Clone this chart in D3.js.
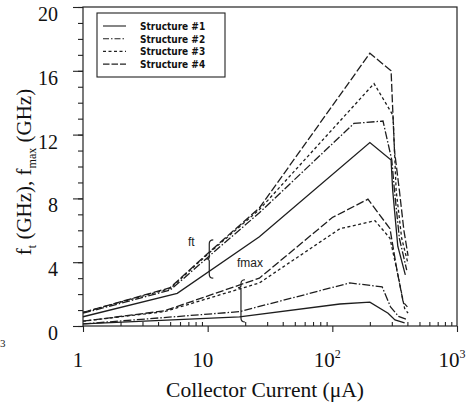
<!DOCTYPE html>
<html>
<head>
<meta charset="utf-8">
<script src="https://cdn.jsdelivr.net/npm/d3@7"></script>
<style>
    body { margin: 0; background: #fff; }
    svg { display: block; }
    .axis path { display: none; }
    .axis line { stroke: #222; stroke-width: 1.1; }
    .curve { fill: none; stroke: #1e1e1e; stroke-width: 1.3; }
</style>
</head>
<body>
<svg id="chart" width="469" height="402"></svg>
<script>
// f_t / f_max vs collector current, 4 structures
// values: [current (uA), frequency (GHz)]

const ftS1 = [[1, 0.58], [5.7, 2.05], [26, 5.6], [200, 11.5], [296, 10.4], [305, 8.5], [335, 5.0], [385, 3.2]];
const ftS2 = [[1, 0.8], [5, 2.25], [10, 4.3], [26, 7.1], [149, 12.7], [255, 12.85], [300, 10.4], [315, 8.5], [345, 5.5], [395, 3.5]];
const ftS3 = [[1, 0.85], [5, 2.35], [10, 4.5], [26, 7.3], [216, 15.2], [307, 13.2], [325, 8.5], [360, 5.5], [405, 3.9]];
const ftS4 = [[1, 0.85], [5, 2.4], [10, 4.55], [26, 7.4], [200, 17.1], [296, 16.0], [315, 11], [345, 8.5], [375, 6.0], [405, 4.4]];

const fmaxS1 = [[1, 0.13], [18, 0.57], [115, 1.38], [200, 1.5], [280, 0.8], [318, 0.38], [380, 0.19]];
const fmaxS2 = [[1, 0.13], [18, 0.9], [138, 2.7], [251, 2.45], [293, 1.2], [340, 0.6], [400, 0.4]];
const fmaxS3 = [[1, 0.3], [4.5, 0.9], [26, 2.7], [115, 6.1], [220, 6.6], [290, 5.5], [340, 3.0], [380, 1.1], [405, 0.8]];
const fmaxS4 = [[1, 0.3], [4.5, 0.95], [26, 3.0], [100, 6.8], [193, 7.95], [290, 6.1], [330, 3.5], [370, 1.5], [400, 1.2]];

const structures = ['Structure #1', 'Structure #2', 'Structure #3', 'Structure #4'];
const dashes = ['none', '8,2,1.5,2', '3,2.5', '8,2.5'];
const legendDashes = ['none', '6,2,1.5,2', '3,2.5', '6.5,2'];

const yMajor = [0, 4, 8, 12, 16, 20];
const yMinor = d3.range(0, 21, 1);
const xMajor = [1, 10, 100, 1000];
const xLabels = [['1', ''], ['10', ''], ['10', '2'], ['10', '3']];

// brace annotations: [current, low GHz, high GHz]
const ftBrace = [10.3, 3.0, 5.4];
const fmaxBrace = [18.5, 0.25, 2.9];

const svg = d3.select('#chart');

// plot frame in pixels
const plotLeft = 83, plotRight = 457, plotTop = 7, plotBottom = 326;

const x = d3.scaleLog().domain([1, 1000]).range([plotLeft, plotRight]);
const y = d3.scaleLinear().domain([0, 20]).range([plotBottom, plotTop]);

// minor x ticks, 2..9 in each decade
const xMinor = [];
[1, 10, 100].forEach(dec => {
    for (let k = 2; k <= 9; k++) xMinor.push(dec * k);
});

// y axis, major ticks with labels plus minor ticks
svg.append('g')
    .attr('class', 'axis')
    .attr('transform', `translate(${plotLeft},0)`)
    .call(d3.axisLeft(y).tickValues(yMinor).tickSize(5).tickFormat(''));

const yAxis = svg.append('g')
    .attr('class', 'axis')
    .attr('transform', `translate(${plotLeft},0)`)
    .call(d3.axisLeft(y).tickValues(yMajor).tickSize(10).tickPadding(15));

yAxis.selectAll('text')
    .attr('dy', '0.32em')
    .attr('y', 7)
    .style('font-family', '"Liberation Serif", "Times New Roman", serif')
    .style('font-size', '20px')
    .attr('fill', '#111');

// x axis: major ticks point down, minor ticks point into the plot
svg.append('g')
    .attr('class', 'axis')
    .attr('transform', `translate(0,${plotBottom})`)
    .call(d3.axisBottom(x).tickValues(xMajor).tickSize(6).tickFormat(''));

svg.append('g')
    .attr('class', 'axis')
    .attr('transform', `translate(0,${plotBottom})`)
    .call(d3.axisBottom(x).tickValues(xMinor).tickSize(-4).tickFormat(''));

// frame
svg.append('rect')
    .attr('x', plotLeft)
    .attr('y', plotTop)
    .attr('width', plotRight - plotLeft)
    .attr('height', plotBottom - plotTop)
    .attr('fill', 'none')
    .attr('stroke', '#222')
    .attr('stroke-width', 1.2);

// x tick labels with superscripts
const xl = svg.append('g')
    .style('font-family', '"Liberation Serif", "Times New Roman", serif')
    .attr('fill', '#111');

xMajor.forEach((v, i) => {
    const t = xl.append('text')
        .attr('x', x(v) - 5)
        .attr('y', 367)
        .attr('text-anchor', 'middle')
        .style('font-size', '21px');
    t.append('tspan').text(xLabels[i][0]);
    if (xLabels[i][1]) {
        t.append('tspan')
            .attr('dy', -9)
            .style('font-size', '12px')
            .text(xLabels[i][1]);
    }
});

// axis titles
svg.append('text')
    .attr('x', 265)
    .attr('y', 397)
    .attr('text-anchor', 'middle')
    .style('font-family', '"Liberation Serif", "Times New Roman", serif')
    .style('font-size', '21.5px')
    .attr('fill', '#111')
    .text('Collector Current (\u03bcA)');

const yt = svg.append('text')
    .attr('transform', 'translate(31,172) rotate(-90)')
    .attr('text-anchor', 'middle')
    .style('font-family', '"Liberation Serif", "Times New Roman", serif')
    .style('font-size', '21px')
    .attr('fill', '#111');
yt.append('tspan').text('f');
yt.append('tspan').attr('dy', 5).style('font-size', '12px').text('t');
yt.append('tspan').attr('dy', -5).text(' (GHz), f');
yt.append('tspan').attr('dy', 5).style('font-size', '12px').text('max');
yt.append('tspan').attr('dy', -5).text(' (GHz)');

// stray scan mark at lower left
svg.append('text')
    .attr('x', 0)
    .attr('y', 347)
    .style('font-family', '"Liberation Serif", serif')
    .style('font-size', '11px')
    .attr('fill', '#222')
    .text('3');

// curves
const line = d3.line()
    .x(d => x(d[0]))
    .y(d => y(d[1]));

const ftSeries = [ftS1, ftS2, ftS3, ftS4];
const fmaxSeries = [fmaxS1, fmaxS2, fmaxS3, fmaxS4];

[ftSeries, fmaxSeries].forEach(group => {
    group.forEach((data, i) => {
        svg.append('path')
            .datum(data)
            .attr('class', 'curve')
            .attr('d', line)
            .attr('stroke-dasharray', dashes[i]);
    });
});

// braces and labels
function brace(b, notchAt) {
    const bx = x(b[0]);
    const y0 = y(b[2]), y1 = y(b[1]);
    const ym = notchAt == null ? (y0 + y1) / 2 : y0 + notchAt;
    svg.append('path')
        .attr('d', `M${bx + 4},${y0} q-4,0 -4,4 L${bx},${ym - 2} q0,2 -3,2 q3,0 3,2 L${bx},${y1 - 4} q0,4 4,4`)
        .attr('fill', 'none')
        .attr('stroke', '#222')
        .attr('stroke-width', 1.2);
}
brace(ftBrace);
brace(fmaxBrace, 8);

svg.append('text')
    .attr('x', 188)
    .attr('y', 246)
    .style('font-family', '"Liberation Sans", Arial, sans-serif')
    .style('font-size', '12px')
    .attr('fill', '#222')
    .text('ft');

svg.append('text')
    .attr('x', 237)
    .attr('y', 267)
    .style('font-family', '"Liberation Sans", Arial, sans-serif')
    .style('font-size', '12px')
    .attr('fill', '#222')
    .text('fmax');

// legend
const legend = svg.append('g');
legend.append('rect')
    .attr('x', 97)
    .attr('y', 13)
    .attr('width', 128)
    .attr('height', 64)
    .attr('fill', '#fff')
    .attr('stroke', '#222')
    .attr('stroke-width', 1.1);

structures.forEach((name, i) => {
    const ly = 26 + i * 12.7;
    legend.append('line')
        .attr('x1', 103)
        .attr('x2', 126)
        .attr('y1', ly)
        .attr('y2', ly)
        .attr('stroke', '#222')
        .attr('stroke-width', 1.1)
        .attr('stroke-dasharray', legendDashes[i]);
    legend.append('text')
        .attr('x', 140)
        .attr('y', ly + 4)
        .style('font-family', '"DejaVu Sans Condensed", "Liberation Sans Narrow", sans-serif')
        .style('font-weight', 'bold')
        .style('font-size', '10px')
        .attr('fill', '#111')
        .text(name);
});
</script>
</body>
</html>
